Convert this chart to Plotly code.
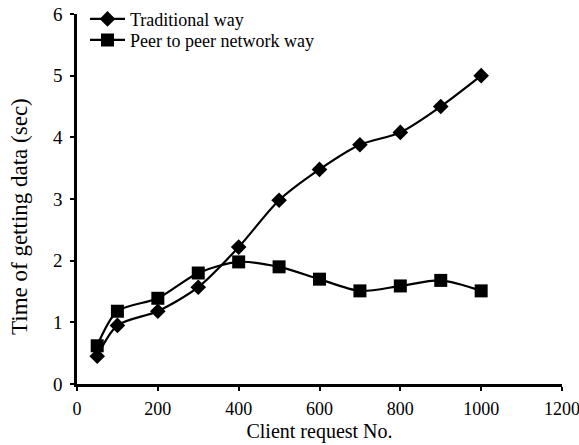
import plotly.graph_objects as go

requests = [50, 100, 200, 300, 400, 500, 600, 700, 800, 900, 1000]
traditional = [0.45, 0.95, 1.18, 1.57, 2.22, 2.98, 3.48, 3.88, 4.08, 4.50, 5.00]
p2p = [0.62, 1.18, 1.39, 1.80, 1.98, 1.90, 1.70, 1.51, 1.59, 1.68, 1.51]
x_ticks = [0, 200, 400, 600, 800, 1000, 1200]
y_ticks = [0, 1, 2, 3, 4, 5, 6]
x_title = "Client request No."
y_title = "Time of getting data (sec)"

font = dict(family="Liberation Serif", color="black")

fig = go.Figure()
fig.add_trace(go.Scatter(
    x=requests, y=traditional, name="Traditional way", legend="legend",
    mode="lines+markers",
    line=dict(color="black", width=2.2, shape="spline", smoothing=0.8),
    marker=dict(symbol="diamond", size=12, color="black"),
))
fig.add_trace(go.Scatter(
    x=requests, y=p2p, name="Peer to peer network way", legend="legend2",
    mode="lines+markers",
    line=dict(color="black", width=2.2, shape="spline", smoothing=0.8),
    marker=dict(symbol="square", size=13, color="black"),
))

legend_style = dict(xanchor="left", yanchor="top", bgcolor="rgba(0,0,0,0)",
                    font=dict(size=18, **font), itemwidth=35)

fig.update_layout(
    width=579, height=445,
    margin=dict(l=77, r=17, t=14, b=61, autoexpand=False),
    paper_bgcolor="white", plot_bgcolor="white",
    font=dict(size=18, **font),
    showlegend=True,
    legend=dict(x=0.0165, y=1.036, **legend_style),
    legend2=dict(x=0.0165, y=0.979, **legend_style),
    xaxis=dict(
        range=[0, 1200], tickvals=x_ticks, ticktext=[str(v) for v in x_ticks],
        showline=True, linecolor="black", linewidth=2.5,
        ticks="outside", ticklen=4, tickwidth=2, tickcolor="black",
        ticklabelstandoff=3, ticklabeloverflow="allow",
        showgrid=False, zeroline=False,
        title=dict(text=x_title, font=dict(size=20, **font), standoff=6),
        tickfont=dict(size=18, **font),
    ),
    yaxis=dict(
        range=[0, 6], tickvals=y_ticks, ticktext=[str(v) for v in y_ticks],
        showline=True, linecolor="black", linewidth=2.5,
        ticks="outside", ticklen=4, tickwidth=2, tickcolor="black",
        ticklabelstandoff=4, ticklabeloverflow="allow",
        showgrid=False, zeroline=False,
        tickfont=dict(size=19, **font),
    ),
    annotations=[dict(
        text=y_title, xref="paper", yref="paper", x=-0.1175, y=0.4514,
        xanchor="center", yanchor="middle", textangle=-90, showarrow=False,
        font=dict(size=23, **font),
    )],
)

fig.write_html("out.html", config={"displayModeBar": False},
               post_script="document.body.style.margin='0';")
